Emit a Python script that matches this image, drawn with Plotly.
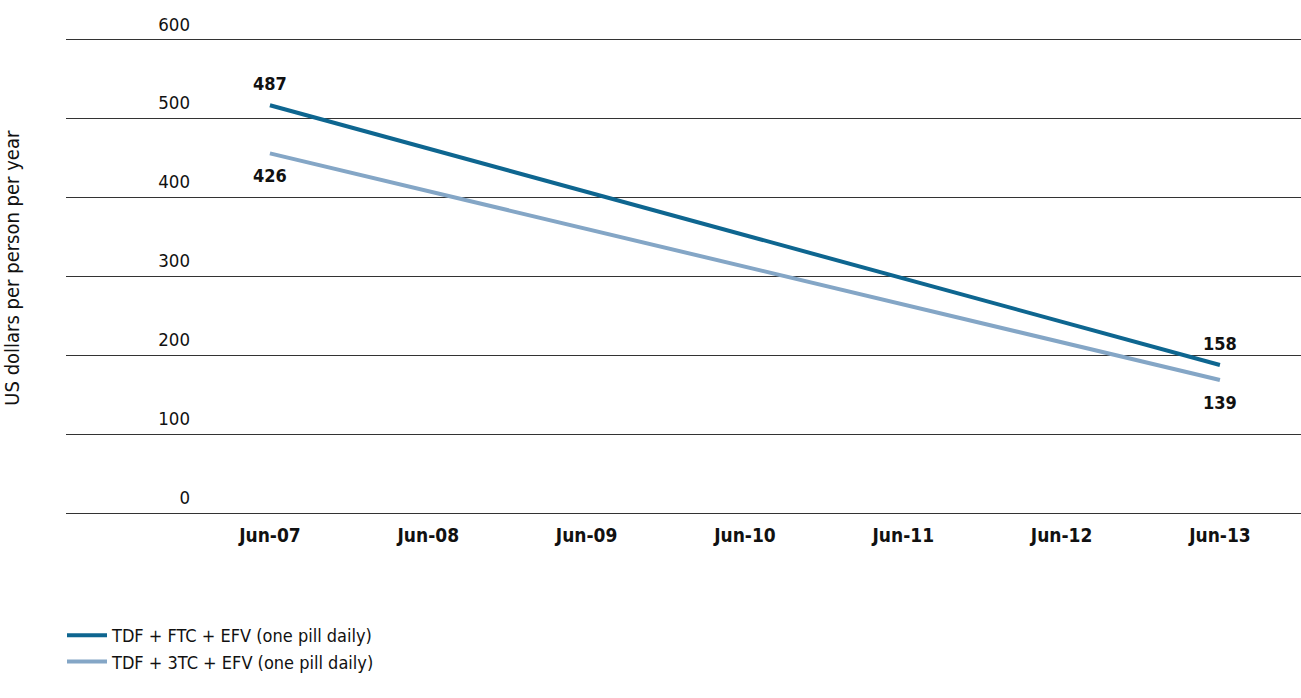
import plotly.graph_objects as go

# ---- data ----
dates = ["Jun-07", "Jun-08", "Jun-09", "Jun-10", "Jun-11", "Jun-12", "Jun-13"]
series_names = ["TDF + FTC + EFV (one pill daily)", "TDF + 3TC + EFV (one pill daily)"]
series_x = [["Jun-07", "Jun-13"], ["Jun-07", "Jun-13"]]
series_y = [[487, 158], [426, 139]]
label_side = [1, -1]  # labels above for first series, below for second
y_ticks = [0, 100, 200, 300, 400, 500, 600]
y_title = "US dollars per person per year"

# ---- style ----
colors = ["#0e6690", "#84a6c6"]
FONT = "Liberation Sans Narrow, Arial Narrow, DejaVu Sans Condensed, sans-serif"
W, H = 1301, 698
grid_offset = 30  # gridlines drawn slightly below the tick-label positions, as in the source

xidx = {d: i for i, d in enumerate(dates)}

fig = go.Figure()
annotations = []
for name, xs, ys, col, side in zip(series_names, series_x, series_y, colors, label_side):
    xi = [xidx[d] for d in xs]
    fig.add_trace(go.Scatter(
        x=xi, y=ys, mode="lines", name=name,
        line=dict(color=col, width=4),
        hoverinfo="skip",
    ))
    for a, b in zip(xi, ys):
        annotations.append(dict(
            x=a, y=b, xref="x", yref="y", text=str(b), showarrow=False,
            yshift=22 * side,
            font=dict(family=FONT, size=18, color="#111111", weight="bold"),
        ))

annotations.append(dict(
    x=12 / W, y=0.485, xref="paper", yref="paper", text=y_title, showarrow=False,
    textangle=-90, xanchor="center", yanchor="middle",
    font=dict(family=FONT, size=20, color="#111111"),
))

fig.update_layout(
    width=W, height=H,
    margin=dict(l=0, r=0, t=5, b=183),
    paper_bgcolor="white", plot_bgcolor="white",
    font=dict(family=FONT, size=18, color="#111111"),
    showlegend=True,
    legend=dict(
        x=62 / W, y=-0.2, xanchor="left", yanchor="top",
        orientation="v", font=dict(family=FONT, size=18, color="#111111"),
        bgcolor="rgba(0,0,0,0)", itemwidth=40, tracegroupgap=0,
    ),
    xaxis=dict(
        domain=[66 / W, 1],
        range=[-1.288, 6.512],
        tickmode="array", tickvals=list(range(len(dates))), ticktext=dates,
        showgrid=False, zeroline=False, showline=False, ticks="",
        tickfont=dict(family=FONT, size=19, color="#111111", weight="bold"),
        ticklabelstandoff=7,
    ),
    yaxis=dict(
        range=[-32, 614],
        anchor="free", position=190 / W, side="left",
        tickmode="array", tickvals=y_ticks, ticktext=[str(t) for t in y_ticks],
        showgrid=False, zeroline=False, showline=False, ticks="",
        ticklabelshift=8,
        tickfont=dict(family=FONT, size=18.5, color="#111111"),
        minor=dict(
            tickmode="array", tickvals=[t - grid_offset for t in y_ticks],
            showgrid=True, gridcolor="#333333", gridwidth=1, ticks="",
        ),
    ),
    annotations=annotations,
)

fig.write_html("out.html")
